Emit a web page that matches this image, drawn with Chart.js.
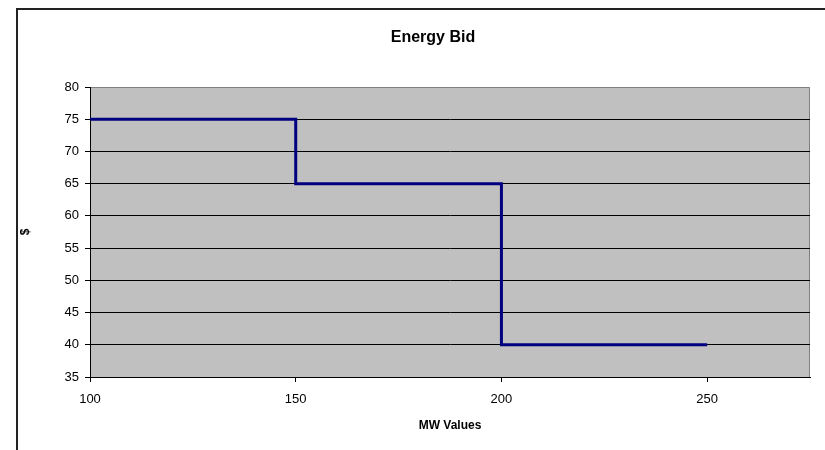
<!DOCTYPE html>
<html>
<head>
<meta charset="utf-8">
<script src="https://cdn.jsdelivr.net/npm/chart.js@4"></script>
<style>
  html, body { margin: 0; padding: 0; background: #fff; }
  #wrap { width: 825px; height: 450px; }
</style>
</head>
<body>
<div id="wrap"><canvas id="graficaOferta" width="825" height="450"></canvas></div>
<script>
// datos de la oferta (MW contra $)
const mwValues = [100, 150, 150, 200, 200, 250];
const precios = [75, 75, 65, 65, 40, 40];
const xTicks = [100, 150, 200, 250];
const titulo = "Energy Bid";

const puntos = mwValues.map((x, i) => ({ x: x, y: precios[i] }));

// marco, fondo gris y titulo al estilo Excel
const estiloExcel = {
    id: "estiloExcel",
    beforeDraw(chart) {
        const ctx = chart.ctx;
        const a = chart.chartArea;
        ctx.save();
        ctx.fillStyle = "#fff";
        ctx.fillRect(0, 0, chart.width, chart.height);
        ctx.strokeStyle = "#222";
        ctx.lineWidth = 2;
        ctx.beginPath();
        ctx.moveTo(17, 450);
        ctx.lineTo(17, 9);
        ctx.lineTo(825, 9);
        ctx.stroke();
        ctx.fillStyle = "#C0C0C0";
        ctx.fillRect(a.left, a.top, a.right - a.left, a.bottom - a.top);
        ctx.strokeStyle = "#808080";
        ctx.lineWidth = 1;
        ctx.beginPath();
        ctx.moveTo(a.left, a.top + 0.5);
        ctx.lineTo(a.right - 0.5, a.top + 0.5);
        ctx.lineTo(a.right - 0.5, a.bottom);
        ctx.stroke();
        ctx.fillStyle = "#000";
        ctx.font = "bold 16px 'Liberation Sans', Arial, sans-serif";
        ctx.textAlign = "center";
        ctx.textBaseline = "middle";
        ctx.fillText(titulo, 433, 38);
        ctx.restore();
    }
};

const fuente = "'Liberation Sans', Arial, sans-serif";

new Chart(document.getElementById("graficaOferta").getContext("2d"), {
    type: "scatter",
    data: {
        datasets: [{
            label: "Bid",
            data: puntos,
            showLine: true,
            borderColor: "#000080",
            backgroundColor: "#000080",
            borderWidth: 3,
            pointRadius: 0,
            tension: 0
        }]
    },
    options: {
        responsive: false,
        animation: false,
        layout: { padding: { top: 87, right: 15, left: 0, bottom: 0 } },
        plugins: {
            legend: { display: false },
            tooltip: { enabled: false }
        },
        scales: {
            x: {
                type: "linear",
                min: 100,
                max: 275,
                afterBuildTicks: scale => { scale.ticks = xTicks.map(v => ({ value: v })); },
                afterFit: scale => { scale.height = 73; },
                grid: { drawOnChartArea: false, drawTicks: true, tickLength: 5, color: "#000" },
                border: { color: "#000", width: 1 },
                ticks: { color: "#000", font: { family: fuente, size: 13 }, padding: 10, maxRotation: 0 },
                title: {
                    display: true,
                    text: "MW Values",
                    color: "#000",
                    font: { family: fuente, size: 12, weight: "bold" },
                    padding: { top: 0, bottom: 17 }
                }
            },
            y: {
                min: 35,
                max: 80,
                ticks: { stepSize: 5, color: "#000", font: { family: fuente, size: 13 }, padding: 6 },
                afterFit: scale => { scale.width = 90; },
                grid: {
                    tickLength: 5,
                    color: ctx => (ctx.tick && ctx.tick.value === 80 ? "rgba(0,0,0,0)" : "#000"),
                    tickColor: "#000"
                },
                border: { color: "#000", width: 1 },
                title: {
                    display: true,
                    text: "$",
                    color: "#000",
                    font: { family: fuente, size: 12, weight: "bold" },
                    padding: { top: 18, bottom: 0 }
                }
            }
        }
    },
    plugins: [estiloExcel]
});
</script>
</body>
</html>
